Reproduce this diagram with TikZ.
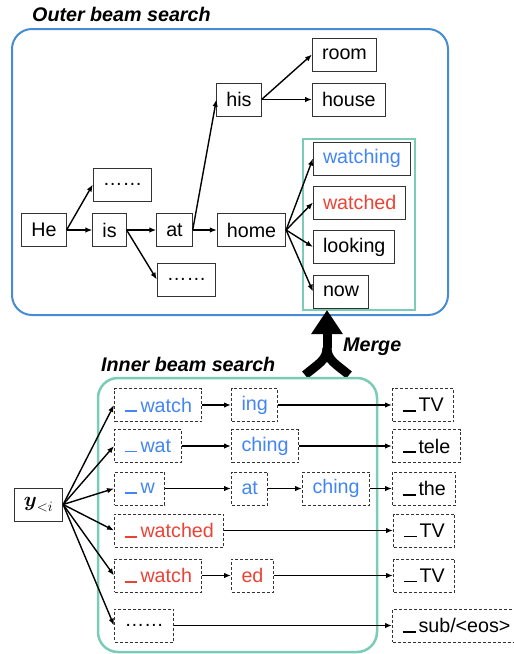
\documentclass[tikz,border=0pt]{standalone}
\usepackage{fontspec}
\setmainfont{Liberation Sans}
\usepackage{amsmath}
\usetikzlibrary{arrows.meta,positioning}
\definecolor{subblue}{RGB}{66,133,244}
\definecolor{subred}{RGB}{234,67,53}
\definecolor{outerblue}{RGB}{70,140,212}
\definecolor{innergreen}{RGB}{122,204,183}
\newcommand{\wordsize}{\fontsize{19.7}{23}\selectfont}
% word-start mark of a subword piece
\newcommand{\subbar}{\rule{13pt}{1.6pt}\hspace{3pt}}
\tikzset{
  word/.style={draw=black!80, line width=1pt, minimum height=33pt,
    inner xsep=9.5pt, inner ysep=0pt, font=\wordsize},
  piece/.style={word, dash pattern=on 3pt off 2pt, inner xsep=10pt, anchor=west},
  link/.style={-{Latex[length=7pt,width=5.5pt]}, line width=1.4pt},
  title/.style={font=\wordsize\bfseries\itshape, anchor=west, inner sep=0pt},
  frame/.style={line width=2pt, rounded corners=20pt},
}

\begin{document}
\begin{tikzpicture}[x=1pt,y=-1pt]
  \useasboundingbox (0,0) rectangle (514,654);

  % outer beam search over words
  \node[title] (outertitle) at (32,14) {Outer beam search};
  \draw[frame, outerblue] (12,29) rectangle (448,315);

  \node[word] (he)    at (44,230)    {He};
  \node[word] (is)    at (109.5,230) {is};
  \node[word] (dotsa) at (122.5,184.5) {……};
  \node[word] (at)    at (174.5,230) {at};
  \node[word] (dotsb) at (186.5,279.5) {……};
  \node[word] (home)  at (251.5,230) {home};
  \node[word] (his)   at (239,99.5)  {his};
  \node[word, anchor=west] (room)  at (312,54.5) {room};
  \node[word, anchor=west] (house) at (312,99.5) {house};
  \node[word, anchor=west, text=subblue] (watching) at (313,158.5) {watching};
  \node[word, anchor=west, text=subred]  (watched)  at (313,202.5) {watched};
  \node[word, anchor=west] (looking) at (313,247) {looking};
  \node[word, anchor=west] (now)     at (313,291.5) {now};
  \draw[line width=2pt, innergreen] (303,139) rectangle (415,310);

  \draw[link] (he.east) -- (is.west);
  \draw[link] (he.east) -- (dotsa.west);
  \draw[link] (is.east) -- (at.west);
  \draw[link] (is.east) -- (dotsb.west);
  \draw[link] (at.east) -- (home.west);
  \draw[link] (at.east) -- (his.west);
  \draw[link] (his.east) -- (room.west);
  \draw[link] (his.east) -- (house.west);
  \foreach \w in {watching,watched,looking,now}
    \draw[link] (home.east) -- (\w.west);

  % merge arrow
  \coordinate (mergetip) at (327,310);
  \coordinate (split) at (327,348);
  \coordinate (footl) at (305,375);
  \coordinate (footr) at (349,375);
  \draw[line width=9pt] (footl) .. controls (318,364) and (327,360) .. (split);
  \draw[line width=9pt] (footr) .. controls (336,364) and (327,360) .. (split);
  \draw[line width=9pt, -{Triangle[length=24pt,width=30pt]}] (split) -- (mergetip);
  \node[title] (mergelabel) at (343,347) {Merge};

  % inner beam search over subwords
  \node[title] (innertitle) at (101,364) {Inner beam search};
  \draw[frame, innergreen, line width=2.5pt] (98,378) rectangle (377,652);

  \node[word] (ylt) at (38.5,504.5) {$\boldsymbol{y}_{<i}$};

  \node[piece, text=subblue] (ra) at (114,405) {\subbar watch};
  \node[piece, text=subblue] (rb) at (231,405) {ing};
  \node[piece] (rc) at (392,405) {\subbar TV};

  \node[piece, text=subblue] (sa) at (114,446) {\subbar wat};
  \node[piece, text=subblue] (sb) at (231,446) {ching};
  \node[piece] (sc) at (392,446) {\subbar tele};

  \node[piece, text=subblue] (ta) at (114,488.5) {\subbar w};
  \node[piece, text=subblue] (tb) at (231,488.5) {at};
  \node[piece, text=subblue] (tc) at (302,488.5) {ching};
  \node[piece] (td) at (392,488.5) {\subbar the};

  \node[piece, text=subred] (ua) at (114,530.5) {\subbar watched};
  \node[piece] (ub) at (393,530.5) {\subbar TV};

  \node[piece, text=subred] (va) at (114,575.5) {\subbar watch};
  \node[piece, text=subred] (vb) at (231,575.5) {ed};
  \node[piece] (vc) at (393,575.5) {\subbar TV};

  \node[piece] (wa) at (114,625.5) {……};
  \node[piece] (wb) at (392,625.5) {\subbar sub/<eos>};

  \foreach \r in {ra,sa,ta,ua,va,wa}
    \draw[link] (ylt.east) -- (\r.west);
  \draw[link] (ra) -- (rb);
  \draw[link] (rb) -- (rc);
  \draw[link] (sa) -- (sb);
  \draw[link] (sb) -- (sc);
  \draw[link] (ta) -- (tb);
  \draw[link] (tb) -- (tc);
  \draw[link] (tc) -- (td);
  \draw[link] (ua) -- (ub);
  \draw[link] (va) -- (vb);
  \draw[link] (vb) -- (vc);
  \draw[link] (wa) -- (wb);
\end{tikzpicture}
\end{document}
